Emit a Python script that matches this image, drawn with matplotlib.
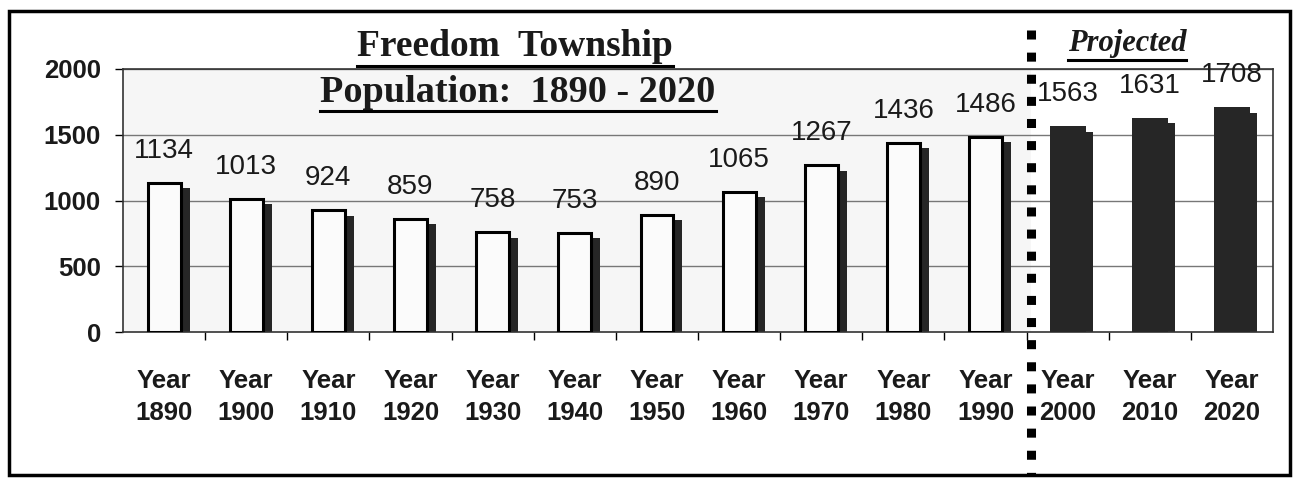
import matplotlib
matplotlib.use('Agg')
import matplotlib.pyplot as plt
from matplotlib.patches import Rectangle
from matplotlib.lines import Line2D
import matplotlib.transforms as mtransforms

years = [1890, 1900, 1910, 1920, 1930, 1940, 1950, 1960, 1970, 1980, 1990, 2000, 2010, 2020]
population = [1134, 1013, 924, 859, 758, 753, 890, 1065, 1267, 1436, 1486, 1563, 1631, 1708]
projected = [False] * 11 + [True] * 3
tick_labels = [f'Year\n{y}' for y in years]
yticks = [0, 500, 1000, 1500, 2000]

W, H = 1299, 482
fig = plt.figure(figsize=(W / 100, H / 100), dpi=100)
fig.patch.set_facecolor('white')
ax = fig.add_axes([123 / W, 1 - 332 / H, 1150 / W, 263 / H])
ax.set_facecolor('#f6f6f6')

xs = list(range(len(years)))
split = 10.55
ax.axvspan(split, len(years) - 0.5, color='white', zorder=0)

for y in yticks[1:]:
    ax.axhline(y, color='#777777', lw=1, zorder=1)

dark = '#262626'
for x, v, proj in zip(xs, population, projected):
    # shadow for the 3d look
    ax.bar(x + 0.1, v - 40, width=0.42, color=dark, zorder=2)
    if proj:
        ax.bar(x, v, width=0.44, color=dark, zorder=3)
    else:
        ax.bar(x, v, width=0.40, color='#fbfbfb', edgecolor='black', lw=2.2, zorder=3)
    ax.annotate(str(v), (x, v), xytext=(0, 19), textcoords='offset pixels',
                ha='center', va='bottom', fontsize=20, family='Liberation Sans',
                color='#1a1a1a', zorder=5)

ax.set_xlim(-0.5, len(years) - 0.5)
ax.set_ylim(0, 2000)
ax.set_yticks(yticks)
ax.set_yticklabels([str(t) for t in yticks], fontsize=18.5, fontweight='bold',
                   family='Liberation Sans', color='#1a1a1a')
ax.set_xticks(xs)
ax.set_xticklabels(tick_labels, fontsize=18.5, fontweight='bold', family='Liberation Sans',
                   linespacing=1.4, color='#1a1a1a')
ax.tick_params(axis='x', which='major', length=0, pad=27)
ax.set_xticks([x + 0.5 for x in xs[:-1]], minor=True)
ax.tick_params(axis='x', which='minor', length=6, width=1)
ax.tick_params(axis='y', length=6, width=1, pad=10)
for s in ax.spines.values():
    s.set_color('#333333')
    s.set_linewidth(1.2)

# dotted divider between actual and projected
trans = mtransforms.blended_transform_factory(ax.transData, ax.transAxes)
ax.add_line(Line2D([split, split], [1.15, -0.545], transform=trans, color='black',
                   lw=6.5, dashes=(1, 1.45), dash_capstyle='butt', clip_on=False, zorder=6))

# titles with underlines
def underlined(x, y, s, **kw):
    t = fig.text(x / W, 1 - y / H, s, ha='center', va='center', **kw)
    fig.canvas.draw()
    bb = t.get_window_extent()
    yl = bb.y0 - 1
    fig.add_artist(Line2D([bb.x0, bb.x1], [yl, yl], transform=None, color='black', lw=2.2))
    return t

serif = dict(family='Liberation Serif', fontweight='bold', color='#1a1a1a')
underlined(515, 47, 'Freedom  Township', fontsize=27, **serif)
underlined(518, 92, 'Population:  1890 - 2020', fontsize=27.5, **serif)
underlined(1127, 44, 'Projected', fontsize=22, style='italic', **serif)

# outer frame
fig.add_artist(Rectangle((9 / W, 7 / H), 1281 / W, 464 / H, transform=fig.transFigure,
                         fill=False, lw=2.5, edgecolor='black'))

fig.savefig('out.png', dpi=100)
